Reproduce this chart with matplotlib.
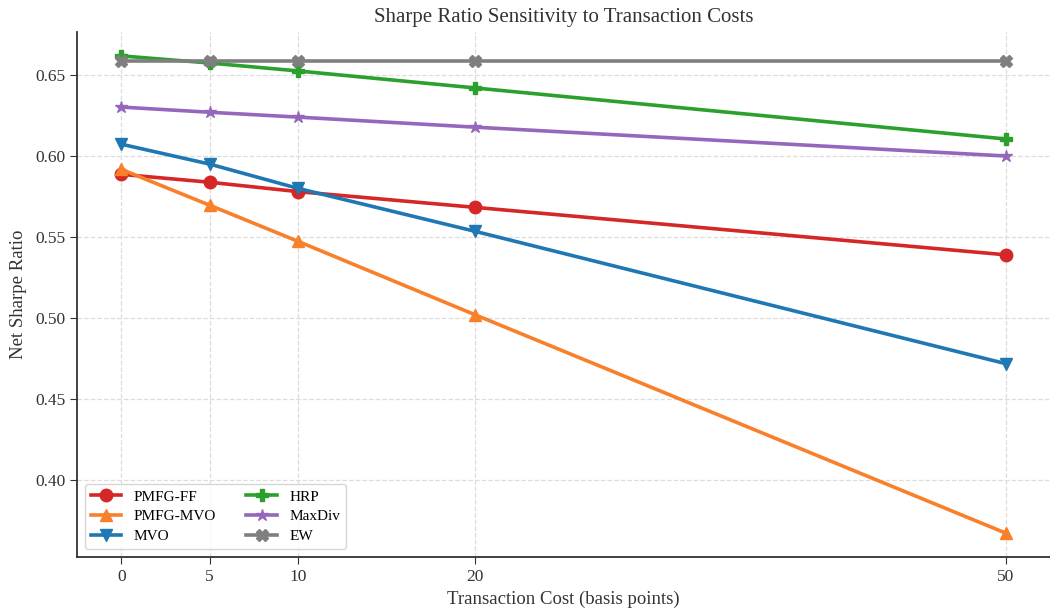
import matplotlib
matplotlib.use("Agg")
import matplotlib.pyplot as plt

plt.rcParams["font.family"] = ["Liberation Serif", "DejaVu Serif"]

costs_bp = [0, 5, 10, 20, 50]

pmfg_ff = [0.5887, 0.5838, 0.5780, 0.5683, 0.5390]
pmfg_mvo = [0.5918, 0.5696, 0.5473, 0.5020, 0.3672]
mvo = [0.6073, 0.5950, 0.5800, 0.5535, 0.4718]
hrp = [0.6618, 0.6574, 0.6525, 0.6420, 0.6105]
maxdiv = [0.6302, 0.6270, 0.6240, 0.6178, 0.6000]
ew = [0.6585, 0.6585, 0.6585, 0.6585, 0.6585]

series = [
    ("PMFG-FF", pmfg_ff, "#d62728", "o"),
    ("PMFG-MVO", pmfg_mvo, "#f8802a", "^"),
    ("MVO", mvo, "#1f77b4", "v"),
    ("HRP", hrp, "#2ca02c", "P"),
    ("MaxDiv", maxdiv, "#9467bd", "*"),
    ("EW", ew, "#7f7f7f", "X"),
]

fig = plt.figure(figsize=(10.5, 6.11), dpi=100)
ax = fig.add_axes([0.0733, 0.0884, 0.9267, 0.8592])

for name, values, color, marker in series:
    ax.plot(costs_bp, values, marker=marker, color=color, label=name,
            linewidth=2.6, markersize=9)

ax.set_xticks(costs_bp)
ax.grid(True, linestyle="--", color="#dddddd", linewidth=0.9)
ax.set_axisbelow(True)
for side in ("top", "right"):
    ax.spines[side].set_visible(False)
for side in ("left", "bottom"):
    ax.spines[side].set_color("#333333")
    ax.spines[side].set_linewidth(1.3)
ax.tick_params(labelsize=12.5, colors="#333333", length=5)

ax.set_xlabel("Transaction Cost (basis points)", fontsize=13.5, color="#333333")
ax.set_ylabel("Net Sharpe Ratio", fontsize=13.5, color="#333333", labelpad=6)
ax.set_title("Sharpe Ratio Sensitivity to Transaction Costs", fontsize=15,
             color="#333333", pad=7)

leg = ax.legend(loc="lower left", ncol=2, fontsize=11, frameon=True,
                edgecolor="#cccccc", fancybox=True, columnspacing=2.0,
                labelspacing=0.4)
leg.get_frame().set_linewidth(1.0)

fig.savefig("out.png", dpi=100)
